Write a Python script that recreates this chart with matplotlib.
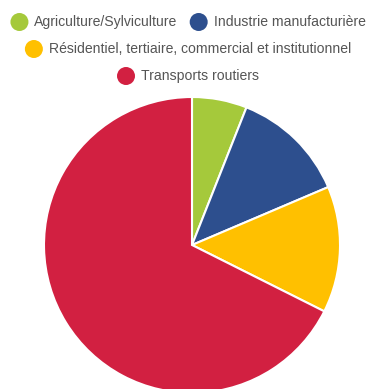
import matplotlib.pyplot as plt
from matplotlib.patches import Circle

labels = ["Agriculture/Sylviculture", "Industrie manufacturière",
          "Résidentiel, tertiaire, commercial et institutionnel",
          "Transports routiers"]
values = [6.0, 12.6, 13.8, 67.6]
colors = ["#A5C93B", "#2D4F8E", "#FFC000", "#D22041"]
legend_rows = [[0, 1], [2], [3]]

W, H = 372, 389
fig = plt.figure(figsize=(W / 100, H / 100), dpi=100)
ax = fig.add_axes([0, 0, 1, 1])
ax.set_xlim(0, W)
ax.set_ylim(0, H)
ax.set_aspect("equal")
ax.axis("off")

# pie, clockwise from 12 o'clock
ax.pie(values, colors=colors, startangle=90, counterclock=False,
       center=(192, H - 245), radius=148,
       wedgeprops=dict(edgecolor="white", linewidth=1.5))
ax.set_xlim(0, W)
ax.set_ylim(0, H)

# legend drawn by hand, rows centred
font = dict(family="Liberation Sans", size=10.1, color="#555555")
renderer = fig.canvas.get_renderer()
row_y = [H - 22, H - 49, H - 76]
r, gap, item_gap = 9, 6, 12
for y, row in zip(row_y, legend_rows):
    widths = []
    for i in row:
        t = ax.text(0, 0, labels[i], **font)
        widths.append(t.get_window_extent(renderer).width)
        t.remove()
    total = sum(2 * r + gap + w for w in widths) + item_gap * (len(row) - 1)
    x = (W - total) / 2 + 2
    for i, w in zip(row, widths):
        ax.add_patch(Circle((x + r, y), r, color=colors[i], ec="none"))
        ax.text(x + 2 * r + gap, y, labels[i], va="center", ha="left", **font)
        x += 2 * r + gap + w + item_gap

fig.savefig("out.png", dpi=100)
